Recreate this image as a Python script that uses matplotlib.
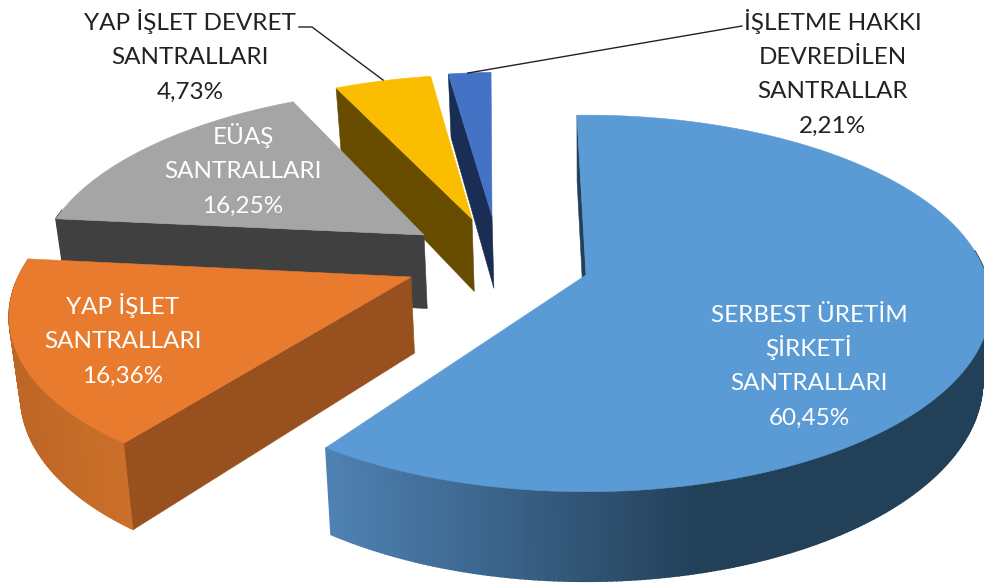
import numpy as np
import matplotlib
matplotlib.use("Agg")
import matplotlib.pyplot as plt
from matplotlib.colors import to_rgb

plt.rcParams['font.family'] = ['Lato', 'DejaVu Sans']

# data
categories = ["SERBEST ÜRETİM\nŞİRKETİ\nSANTRALLARI", "YAP İŞLET\nSANTRALLARI", "EÜAŞ\nSANTRALLARI",
              "YAP İŞLET DEVRET\nSANTRALLARI", "İŞLETME HAKKI\nDEVREDİLEN\nSANTRALLAR"]
shares = [60.45, 16.36, 16.25, 4.73, 2.21]
value_labels = ["60,45%", "16,36%", "16,25%", "4,73%", "2,21%"]

top_colors = ["#5B9BD5", "#E97B2F", "#A5A5A5", "#FBBD00", "#4472C4"]
cut_colors = ["#234059", "#98501E", "#404040", "#674C00", "#1A2D52"]
rim_light = ["#4F82B3", "#CB702A", "#4A4A4A", "#6E5300", "#1F3560"]
rim_dark = ["#234059", "#BE6626", "#404040", "#674C00", "#1A2D52"]
apexes = [(586, 275), (411, 277), (424, 235), (472, 219), (492, 216)]
label_x = [809, 123, 243, 190, 833]
label_base = [322, 314, 144, 30, 30]
label_col = ["white", "white", "white", "#222222", "#222222"]
LINE_PITCH = 34.2

# camera
CX, CY, RX, RY, K = 586, 275, 400, 184, 0.151
H, S, START = 76, 0.98, -1.5
# small perspective corrections of each slice's edges, degrees
start_nudge = [0, 0, 0.6, 0, -0.2]
end_nudge = [-1.4, 0.8, 0, -0.2, -0.7]


def project(X, Y, low=False):
    w = 1 + K * Y
    sx = CX + RX * X / w * (S if low else 1)
    sy = CY - RY * Y / w + (H / w if low else 0)
    return sx, sy


def unproject(px, py):
    v = (CY - py) / RY
    Y = v / (1 - K * v)
    return (px - CX) * (1 + K * Y) / RX, Y


fig = plt.figure(figsize=(9.84, 5.84), dpi=100)
ax = fig.add_axes([0, 0, 1, 1])
ax.set_xlim(0, 984)
ax.set_ylim(584, 0)
ax.axis("off")


def poly(pts, color, z, lw=0.4):
    xs, ys = zip(*pts)
    ax.fill(xs, ys, facecolor=color, edgecolor=color, lw=lw, zorder=z)


fractions = np.array(shares) / sum(shares)
edges = np.radians(START + 360 * np.concatenate([[0], np.cumsum(fractions)]))
radii = [1.0, 0.98, 0.975, 0.985, 0.985]

# back-to-front painter order
order = [4, 3, 2, 1, 0]
for n, i in enumerate(order):
    z = 2 + n * 5
    a0 = edges[i] + np.radians(start_nudge[i])
    a1 = edges[i + 1] + np.radians(end_nudge[i])
    ax0, ay0 = unproject(*apexes[i])
    t = np.linspace(a0, a1, max(12, int(np.degrees(a1 - a0) / 0.6)))
    Xs = ax0 + radii[i] * np.sin(t)
    Ys = ay0 + radii[i] * np.cos(t)

    # outer rim: gradient strips (front-facing part only)
    lo, hi = np.array(to_rgb(rim_light[i])), np.array(to_rgb(rim_dark[i]))
    sxs = project(Xs, Ys)[0]
    span = max(sxs.max() - sxs.min(), 1)
    apex_y = project(ax0, ay0)[1]
    for j in range(len(t) - 1):
        q = [project(Xs[j], Ys[j]), project(Xs[j + 1], Ys[j + 1]),
             project(Xs[j + 1], Ys[j + 1], True), project(Xs[j], Ys[j], True)]
        if (q[0][1] + q[1][1]) / 2 < apex_y - 25:
            continue
        f = (sxs.max() - sxs[j]) / span
        if i == 0:
            colr = hi + (lo - hi) * max(0, (f - 0.435) / 0.565)
        else:
            colr = lo + (hi - lo) * f
        poly(q, tuple(colr), z, lw=1.2)

    # visible cut face
    A, B = project(ax0, ay0), project(ax0, ay0, True)
    P, Pl = project(Xs[0], Ys[0]), project(Xs[0], Ys[0], True)
    poly([A, P, Pl, B], cut_colors[i], z + 1)

    # top face
    top = [project(ax0, ay0)] + [project(x, y) for x, y in zip(Xs, Ys)]
    poly(top, top_colors[i], z + 2)

# leader lines
ax.plot([299, 312, 383], [27, 27, 80], color="#222222", lw=1.0, zorder=50, solid_joinstyle="miter")
ax.plot([468, 742], [73, 26], color="#222222", lw=1.0, zorder=50)

# labels, one text per line at a fixed pitch
for cat, val, x, y0, c in zip(categories, value_labels, label_x, label_base, label_col):
    for k, line in enumerate(cat.split("\n") + [val]):
        ax.text(x, y0 + k * LINE_PITCH, line, ha="center", va="baseline", color=c,
                fontsize=17.5, zorder=60)

fig.savefig("out.png", dpi=100)
